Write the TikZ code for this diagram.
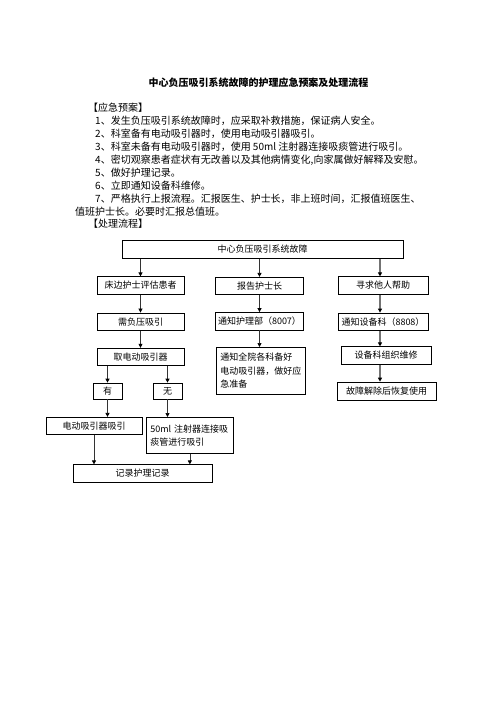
\documentclass[tikz,border=0pt]{standalone}
\usepackage{fontspec}
\setmainfont{Noto Sans CJK SC}
\usepackage{tikz}
\usetikzlibrary{positioning, arrows.meta, calc}

\begin{document}
\begin{tikzpicture}[
    x=1pt, y=-1pt,
    box/.style={
      draw, rectangle, line width=0.7pt, inner sep=0pt,
      minimum height=17.5pt, align=center,
      font=\fontsize{9}{13.5}\selectfont
    },
    tbox/.style={box, align=left, inner xsep=4pt, anchor=north west},
    txt/.style={anchor=west, inner sep=0pt, font=\fontsize{10}{12}\selectfont},
    arrow/.style={-{Triangle[length=4pt, width=4pt, color=black]},
      line width=0.7pt, draw=black!80},
    garrow/.style={arrow, line width=1.2pt, draw=black!55}
  ]

    \useasboundingbox (0,0) rectangle (496,702);

    % ── Heading and plan text ──
    \node[font=\fontsize{10}{12}\selectfont\bfseries] (title) at (258.5,83)
      {中心负压吸引系统故障的护理应急预案及处理流程};
    \node[txt] (plan) at (88,108) {【应急预案】};
    \node[txt] (p1) at (95,121) {1、发生负压吸引系统故障时，应采取补救措施，保证病人安全。};
    \node[txt] (p2) at (95,134) {2、科室备有电动吸引器时，使用电动吸引器吸引。};
    \node[txt] (p3) at (95,147) {3、科室未备有电动吸引器时，使用 50ml 注射器连接吸痰管进行吸引。};
    \node[txt] (p4) at (95,160) {4、密切观察患者症状有无改善以及其他病情变化,向家属做好解释及安慰。};
    \node[txt] (p5) at (95,173) {5、做好护理记录。};
    \node[txt] (p6) at (95,186) {6、立即通知设备科维修。};
    \node[txt] (p7) at (95,199) {7、严格执行上报流程。汇报医生、护士长，非上班时间，汇报值班医生、};
    \node[txt] (p7b) at (75,212) {值班护士长。必要时汇报总值班。};
    \node[txt] (flow) at (88,224) {【处理流程】};

    % ── Flow chart ──
    \node[box, minimum width=281pt] (top) at (262.5,249.5) {中心负压吸引系统故障};

    \node[box, minimum width=87pt] (a1) at (140.5,285.5) {床边护士评估患者};
    \node[box, minimum width=87pt, below=18pt of a1] (a2) {需负压吸引};
    \node[box, minimum width=87pt, below=17pt of a2] (a3) {取电动吸引器};
    \node[box, minimum width=29pt, minimum height=16pt] (you) at (107.5,391) {有};
    \node[box, minimum width=29pt, minimum height=16pt] (wu) at (167.5,391) {无};
    \node[box, minimum width=96pt] (dd) at (94,426) {电动吸引器吸引};
    \node[tbox, text width=79pt, minimum height=36pt] (zs) at (146,417)
      {50ml 注射器连接吸\\痰管进行吸引};
    \node[box, minimum width=139pt] (jl) at (142.5,473.5) {记录护理记录};

    \node[box, minimum width=88pt] (b1) at (259.5,286) {报告护士长};
    \node[box, minimum width=88pt, below=17pt of b1] (b2) {通知护理部（8007）};
    \node[tbox, text width=81pt, minimum height=47pt] (b3) at (216,347)
      {通知全院各科备好\\电动吸引器，做好应\\急准备};

    \node[box, minimum width=90pt] (c1) at (383,285.5) {寻求他人帮助};
    \node[box, minimum width=90pt, below=18pt of c1] (c2) {通知设备科（8808）};
    \node[box, minimum width=90pt] (c3) at (386,355.5) {设备科组织维修};
    \node[box, minimum width=99pt, minimum height=18pt] (c4) at (386.5,391) {故障解除后恢复使用};
    \coordinate (c3x) at (380,0);

    % ── Arrows ──
    \draw[arrow] (top.south -| a1) -- (a1);
    \draw[arrow] (a1) -- (a2);
    \draw[arrow] (a2) -- (a3);
    \draw[arrow] (a3.south -| you) -- (you);
    \draw[arrow] (a3.south -| wu) -- (wu);
    \draw[arrow] (you) -- (you |- dd.north);
    \draw[arrow] (wu) -- (wu |- zs.north);
    \draw[arrow] (dd) -- (dd |- jl.north);
    \draw[arrow] (zs) -- (zs |- jl.north);

    \draw[arrow] (top.south -| b1) -- (b1);
    \draw[arrow] (b1) -- (b2);
    \draw[arrow] (b2) -- (b2 |- b3.north);

    \draw[garrow] (top.south -| c3x) -- (c1.north -| c3x);
    \draw[garrow] (c1.south -| c3x) -- (c2.north -| c3x);
    \draw[garrow] (c2.south -| c3x) -- (c3.north -| c3x);
    \draw[garrow] (c3.south -| c3x) -- (c4.north -| c3x);

  \end{tikzpicture}
\end{document}
